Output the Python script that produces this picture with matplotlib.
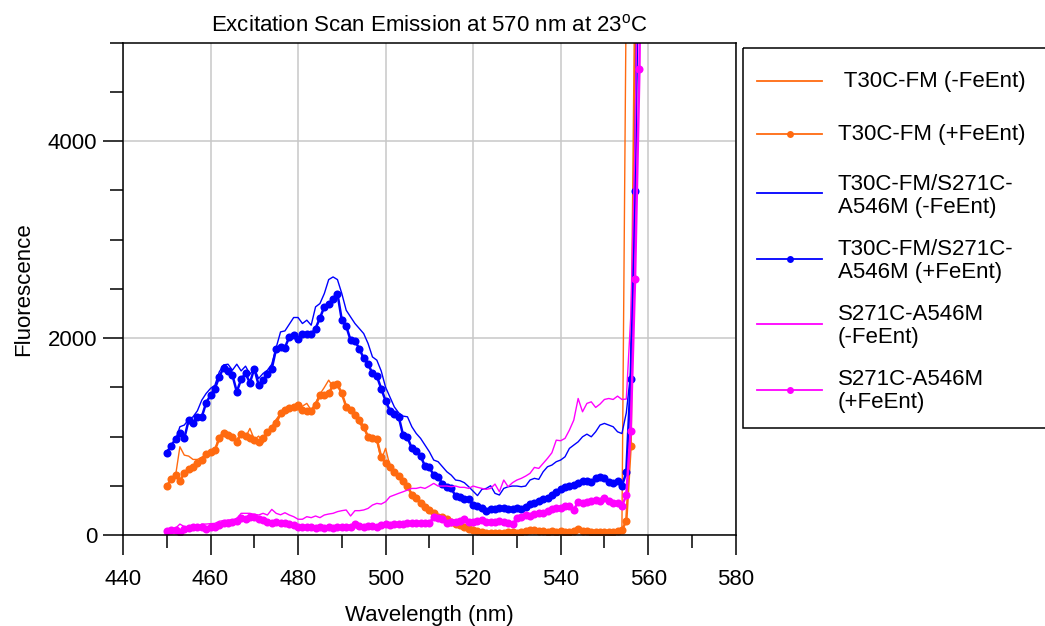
import numpy as np
import matplotlib
matplotlib.use("Agg")
import matplotlib.pyplot as plt
from matplotlib.lines import Line2D
from matplotlib.patches import Rectangle

plt.rcParams["font.family"] = ["Liberation Sans", "DejaVu Sans"]
plt.rcParams["mathtext.fontset"] = "custom"
plt.rcParams["mathtext.rm"] = "Liberation Sans"
plt.rcParams["font.size"] = 16

# Excitation wavelengths (nm), 1 nm steps
wavelength = np.arange(450, 560)

t30c_minus = [497, 558, 600, 896, 811, 801, 767, 767, 788, 822,
              845, 862, 1004, 1038, 1024, 997, 970, 1031, 991, 1082,
              970, 1004, 936, 1048, 1099, 1173, 1234, 1251, 1285, 1301,
              1268, 1308, 1336, 1268, 1342, 1430, 1498, 1572, 1504, 1521,
              1420, 1318, 1251, 1217, 1133, 1082, 997, 997, 963, 760,
              880, 700, 659, 591, 558, 497, 423, 382, 328, 287,
              247, 220, 193, 169, 152, 125, 101, 85, 68, 51,
              45, 40, 35, 30, 30, 28, 32, 35, 30, 38,
              40, 35, 42, 38, 45, 40, 38, 42, 45, 40,
              42, 38, 45, 48, 42, 45, 40, 42, 38, 45,
              42, 40, 45, 50, 60, 5600, 9000, 12000, 15000, 18000]

t30c_plus = [497, 565, 608, 551, 626, 666, 693, 727, 761, 822,
             845, 862, 981, 1031, 1014, 991, 946, 1024, 1004, 981,
             963, 946, 981, 1048, 1082, 1133, 1234, 1268, 1285, 1295,
             1318, 1268, 1261, 1261, 1318, 1420, 1420, 1437, 1521, 1531,
             1437, 1301, 1268, 1217, 1166, 1099, 997, 981, 970, 794,
             727, 686, 642, 598, 551, 497, 406, 372, 321, 287,
             254, 226, 186, 179, 159, 135, 112, 101, 85, 57,
             51, 44, 34, 24, 17, 17, 24, 24, 34, 34,
             24, 34, 44, 51, 51, 44, 44, 34, 44, 34,
             44, 34, 34, 44, 57, 44, 44, 34, 34, 34,
             34, 34, 34, 44, 51, 142, 906, 5300, 9000, 12000]

fret_minus = [845, 913, 963, 1099, 1116, 1173, 1200, 1261, 1369, 1437,
              1488, 1521, 1656, 1727, 1734, 1673, 1734, 1666, 1714, 1633,
              1690, 1589, 1640, 1673, 1734, 1903, 2062, 2072, 2140, 2208,
              2208, 2147, 2181, 2130, 2316, 2350, 2451, 2593, 2620, 2593,
              2451, 2282, 2214, 2147, 2096, 2045, 1944, 1808, 1775, 1665,
              1500, 1400, 1300, 1240, 1207, 1200, 1099, 1031, 981, 913,
              845, 761, 744, 693, 642, 608, 558, 551, 531, 490,
              445, 400, 463, 473, 500, 423, 406, 473, 490, 497,
              497, 490, 497, 558, 575, 565, 642, 693, 710, 744,
              761, 794, 879, 913, 946, 997, 1024, 997, 1048, 1116,
              1133, 1116, 1099, 1048, 1030, 1240, 1650, 3600, 7000, 10000]

fret_plus = [835, 906, 974, 1031, 980, 1166, 1133, 1200, 1200, 1342,
             1420, 1487, 1606, 1700, 1663, 1623, 1454, 1582, 1640, 1545,
             1690, 1521, 1572, 1630, 1690, 1893, 1910, 1903, 2011, 2028,
             1994, 2040, 2040, 2040, 2096, 2204, 2316, 2343, 2400, 2451,
             2181, 2120, 1978, 1968, 1893, 1792, 1735, 1640, 1613, 1487,
             1362, 1261, 1224, 1200, 1014, 991, 879, 855, 801, 700,
             686, 608, 592, 517, 490, 473, 396, 382, 362, 362,
             304, 294, 270, 247, 260, 260, 270, 270, 260, 260,
             270, 260, 281, 314, 328, 348, 362, 372, 406, 439,
             467, 484, 497, 507, 530, 551, 551, 541, 575, 592,
             575, 541, 530, 551, 497, 636, 1579, 3489, 7000, 10000]

s271c_minus = [51, 60, 68, 111, 85, 80, 85, 85, 111, 111,
               115, 118, 140, 145, 152, 152, 169, 220, 220, 220,
               210, 203, 220, 203, 260, 220, 205, 226, 203, 186,
               160, 160, 186, 176, 193, 176, 203, 213, 220, 237,
               247, 254, 193, 247, 247, 254, 270, 304, 321, 314,
               338, 389, 406, 423, 439, 456, 473, 473, 484, 473,
               497, 524, 497, 497, 497, 490, 497, 484, 484, 473,
               497, 484, 473, 463, 473, 517, 439, 558, 490, 531,
               558, 575, 598, 626, 686, 676, 727, 778, 835, 963,
               957, 981, 1065, 1166, 1386, 1251, 1336, 1352, 1295, 1329,
               1376, 1386, 1376, 1410, 1376, 1380, 2200, 4000, 7000, 10000]

s271c_plus = [40, 51, 51, 35, 57, 68, 78, 78, 85, 60,
              78, 85, 101, 118, 125, 135, 145, 169, 159, 179,
              179, 159, 152, 135, 125, 135, 118, 118, 111, 101,
              85, 85, 78, 78, 68, 78, 68, 78, 68, 78,
              85, 85, 85, 111, 91, 85, 91, 91, 85, 101,
              111, 101, 111, 111, 111, 118, 118, 125, 125, 125,
              125, 179, 169, 159, 125, 135, 135, 145, 159, 135,
              135, 145, 152, 135, 135, 135, 145, 135, 125, 111,
              169, 186, 203, 193, 213, 220, 226, 247, 260, 270,
              270, 294, 294, 254, 338, 328, 338, 348, 355, 348,
              372, 348, 328, 328, 290, 405, 1055, 2603, 4733, 9000]

labels = [" T30C-FM (-FeEnt)", "T30C-FM (+FeEnt)",
          "T30C-FM/S271C-\nA546M (-FeEnt)", "T30C-FM/S271C-\nA546M (+FeEnt)",
          "S271C-A546M\n(-FeEnt)", "S271C-A546M\n(+FeEnt)"]

ORANGE = "#FF6A10"
BLUE = "#0000FF"
MAGENTA = "#FF00FF"

series = [t30c_minus, t30c_plus, fret_minus, fret_plus, s271c_minus, s271c_plus]
styles = [
    dict(color=ORANGE, lw=1.0, marker=None),
    dict(color=ORANGE, lw=1.8, marker="o", ms=5.8),
    dict(color=BLUE, lw=1.0, marker=None),
    dict(color=BLUE, lw=1.8, marker="o", ms=5.8),
    dict(color=MAGENTA, lw=1.0, marker=None),
    dict(color=MAGENTA, lw=1.8, marker="o", ms=5.8),
]

W, H = 1045, 626
fig = plt.figure(figsize=(W / 100, H / 100), dpi=100)
ax = fig.add_axes([123 / W, 1 - 535 / H, (735.7 - 123) / W, (535 - 42.5) / H])

for vals, st in zip(series, styles):
    ax.plot(wavelength, vals, color=st["color"], lw=st["lw"],
            marker=st["marker"], ms=st.get("ms", 0), mew=0)

ax.set_xlim(440, 580)
ax.set_ylim(0, 5000)
ax.set_xticks(np.arange(440, 581, 20))
ax.set_xticks(np.arange(440, 581, 10), minor=True)
ax.set_yticks([0, 2000, 4000])
ax.set_yticks(np.arange(0, 5001, 500), minor=True)
ax.set_axisbelow(True)
ax.grid(True, which="major", color="#C8C8C8", lw=1.1)

for sp in ax.spines.values():
    sp.set_linewidth(1.1)
ax.tick_params(which="major", direction="out", length=14.4, width=1.1)
ax.tick_params(which="minor", direction="out", length=9.6, width=1.1)
ax.tick_params(axis="x", which="major", pad=10)
ax.tick_params(axis="y", which="major", pad=4)

ax.set_title("Excitation Scan Emission at 570 nm at 23$^{\\mathregular{o}}$C",
             fontsize=16, pad=8)
ax.set_xlabel("Wavelength (nm)", fontsize=16, labelpad=11)
ax.set_ylabel("Fluorescence", fontsize=16, labelpad=10)

# Legend panel drawn in pixel coordinates
lg = fig.add_axes([0, 0, 1, 1], zorder=5)
lg.set_xlim(0, W)
lg.set_ylim(H, 0)
lg.axis("off")
lg.add_patch(Rectangle((742.7, 48.3), 400, 379.7, fill=False,
                       ec="black", lw=1.1, clip_on=False))
handle_y = [81, 134.3, 193.3, 259, 324.3, 390]
text_y = [81, 134.3, 195.8, 260.8, 325.8, 390.8]
for lab, st, hy, ty in zip(labels, styles, handle_y, text_y):
    lg.add_line(Line2D([757, 822], [hy, hy], color=st["color"], lw=1.3))
    if st["marker"]:
        lg.add_line(Line2D([789.5], [hy], color=st["color"], marker="o",
                           ms=5.0, mew=0, lw=0))
    lg.text(838, ty, lab, va="center", ha="left", fontsize=16,
            linespacing=1.12)

fig.savefig("out.png", dpi=100)
